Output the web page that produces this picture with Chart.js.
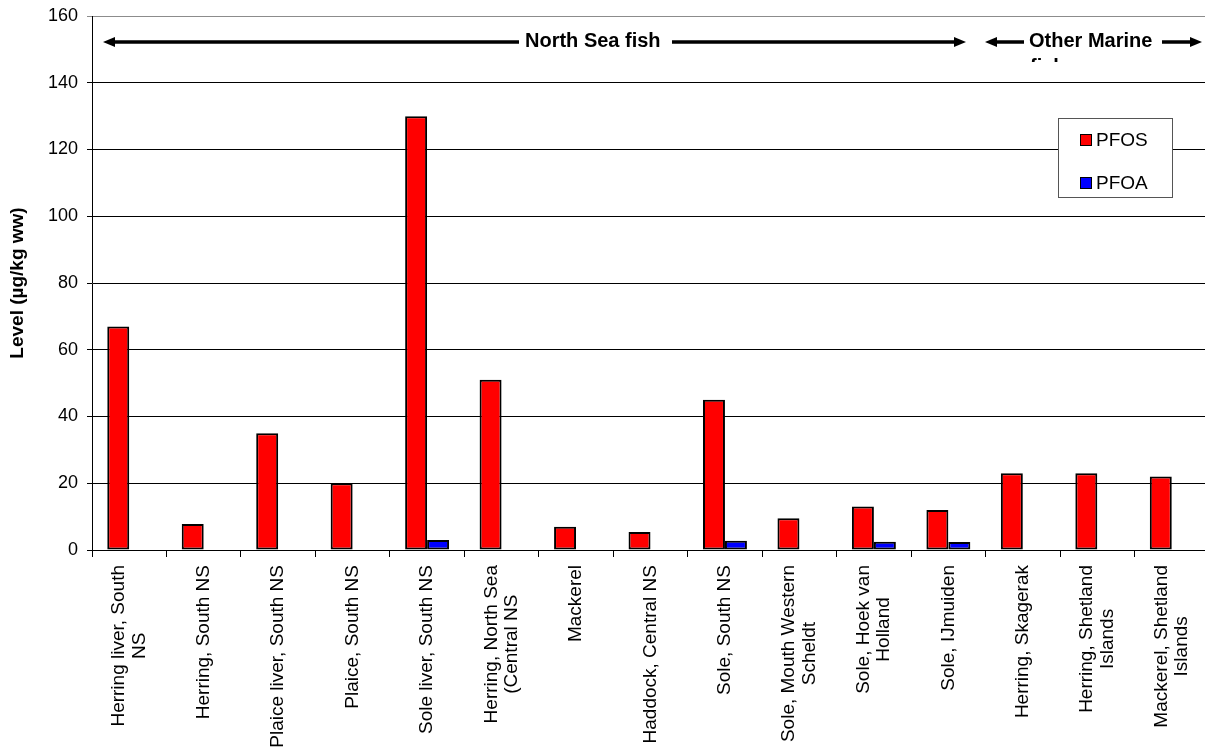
<!DOCTYPE html>
<html>
<head>
<meta charset="utf-8">
<title>PFOS and PFOA in fish</title>
<script src="https://cdn.jsdelivr.net/npm/chart.js@4/dist/chart.umd.min.js"></script>
<style>
    html, body { margin: 0; padding: 0; background: #fff; overflow: hidden; }
    #wrap { width: 1209px; height: 747px; }
</style>
</head>
<body>
<div id="wrap"><canvas id="fishChart" width="1209" height="747"></canvas></div>
<script>
const categories = [
    ['Herring liver, South', 'NS'],
    ['Herring, South NS'],
    ['Plaice liver, South NS'],
    ['Plaice, South NS'],
    ['Sole liver, South NS'],
    ['Herring, North Sea', '(Central NS'],
    ['Mackerel'],
    ['Haddock, Central NS'],
    ['Sole, South NS'],
    ['Sole, Mouth Western', 'Scheldt'],
    ['Sole, Hoek van', 'Holland'],
    ['Sole, IJmuiden'],
    ['Herring, Skagerak'],
    ['Herring, Shetland', 'Islands'],
    ['Mackerel, Shetland', 'Islands'],
]
const pfos = [67, 7.8, 35, 20, 130, 51, 7, 5.4, 45, 9.5, 13, 12, 23, 23, 22]
const pfoa = [null, null, null, null, 3, null, null, null, 2.8, null, 2.5, 2.4, null, null, null]
const yTicks = [0, 20, 40, 60, 80, 100, 120, 140, 160]

const FONT = '"Liberation Sans", Arial, sans-serif'

// category names, rotated, lines centred on each other
const xLabels = {
    id: 'xLabels',
    afterDraw(chart) {
        const {ctx, scales: {x}} = chart
        ctx.save()
        ctx.font = '19px ' + FONT
        ctx.fillStyle = '#000'
        ctx.textAlign = 'center'
        ctx.textBaseline = 'middle'
        categories.forEach((lines, i) => {
            const widest = Math.max(...lines.map(l => ctx.measureText(l).width))
            ctx.save()
            ctx.translate(x.getPixelForValue(i), x.top + 15)
            ctx.rotate(-Math.PI / 2)
            lines.forEach((line, j) => {
                ctx.fillText(line, -widest / 2, (j - (lines.length - 1) / 2) * 20.5)
            })
            ctx.restore()
        })
        ctx.restore()
    }
}

function arrow(ctx, from, to, y) {
    const dir = Math.sign(to - from)
    ctx.beginPath()
    ctx.moveTo(from, y)
    ctx.lineTo(to - dir * 9, y)
    ctx.stroke()
    ctx.beginPath()
    ctx.moveTo(to, y)
    ctx.lineTo(to - dir * 12, y - 5)
    ctx.lineTo(to - dir * 12, y + 5)
    ctx.closePath()
    ctx.fill()
}

// group banners across the top of the plot
const groups = {
    id: 'groups',
    afterDraw(chart) {
        const {ctx, chartArea: {left}} = chart
        const y = 42
        ctx.save()
        ctx.fillStyle = '#000'
        ctx.strokeStyle = '#000'
        ctx.lineWidth = 3.5
        ctx.font = 'bold 20px ' + FONT
        ctx.textBaseline = 'middle'
        ctx.textAlign = 'left'

        ctx.fillText('North Sea fish', left + 433, y - 1)
        arrow(ctx, left + 427, left + 11, y)
        arrow(ctx, left + 580, left + 874, y)

        ctx.fillText('Other Marine', left + 937, y - 1)
        arrow(ctx, left + 932, left + 893, y)
        arrow(ctx, left + 1070, left + 1110, y)

        // second line of the text box is cut off by its frame
        ctx.beginPath()
        ctx.rect(left + 930, y + 12, 160, 8)
        ctx.clip()
        ctx.textBaseline = 'alphabetic'
        ctx.fillText('fish', left + 938, y + 31)
        ctx.restore()
    }
}

// boxed legend inside the plot
const boxLegend = {
    id: 'boxLegend',
    afterDraw(chart) {
        const {ctx} = chart
        const bx = 1058, by = 118, bw = 114, bh = 79
        ctx.save()
        ctx.fillStyle = '#fff'
        ctx.fillRect(bx, by, bw, bh)
        ctx.strokeStyle = '#555'
        ctx.lineWidth = 1
        ctx.strokeRect(bx + 0.5, by + 0.5, bw, bh)
        ctx.font = '19px ' + FONT
        ctx.textBaseline = 'middle'
        chart.data.datasets.forEach((ds, i) => {
            const cy = by + 22 + i * 43
            ctx.fillStyle = ds.backgroundColor
            ctx.fillRect(bx + 22, cy - 6, 12, 12)
            ctx.strokeStyle = '#000'
            ctx.strokeRect(bx + 22.5, cy - 5.5, 11, 11)
            ctx.fillStyle = '#000'
            ctx.fillText(ds.label, bx + 38, cy + 1)
        })
        ctx.restore()
    }
}

window.addEventListener('DOMContentLoaded', function () {
    const ctx = document.getElementById('fishChart')

    new Chart(ctx, {
        type: 'bar',
        data: {
            labels: categories,
            datasets: [
                {
                    label: 'PFOS',
                    data: pfos,
                    backgroundColor: '#ff0000',
                    borderColor: '#000',
                    borderWidth: 2,
                    borderSkipped: false,
                },
                {
                    label: 'PFOA',
                    data: pfoa,
                    backgroundColor: '#0000ff',
                    borderColor: '#000',
                    borderWidth: 2,
                    borderSkipped: false,
                }
            ]
        },
        options: {
            responsive: false,
            animation: false,
            devicePixelRatio: 1,
            layout: { padding: { top: 16, left: 0, right: 0, bottom: 0 } },
            datasets: {
                bar: { categoryPercentage: 0.59, barPercentage: 1.0 }
            },
            plugins: {
                legend: { display: false },
                tooltip: { enabled: false }
            },
            scales: {
                x: {
                    grid: {
                        offset: true,
                        drawOnChartArea: false,
                        drawTicks: true,
                        tickLength: 7,
                        color: '#000'
                    },
                    border: { color: '#000', width: 1 },
                    ticks: { display: false },
                    afterFit: scale => {
                        scale.height = 197
                        scale.paddingLeft = 0
                        scale.paddingRight = 0
                    }
                },
                y: {
                    min: 0,
                    max: 160,
                    afterBuildTicks: scale => { scale.ticks = yTicks.map(v => ({value: v})) },
                    grid: {
                        color: c => c.tick && c.tick.value === 160 ? '#8c8c8c' : '#000',
                        tickLength: 5,
                        lineWidth: 1
                    },
                    border: { color: '#000', width: 1 },
                    ticks: {
                        color: '#000',
                        padding: 9,
                        font: { family: FONT, size: 18 }
                    },
                    title: {
                        display: true,
                        text: 'Level (µg/kg ww)',
                        color: '#000',
                        padding: { top: 6, bottom: 0 },
                        font: { family: FONT, size: 19, weight: 'bold' }
                    },
                    afterFit: scale => {
                        scale.width = 92
                        scale.paddingTop = 0
                        scale.paddingBottom = 0
                    }
                }
            }
        },
        plugins: [xLabels, groups, boxLegend]
    })
})
</script>
</body>
</html>
